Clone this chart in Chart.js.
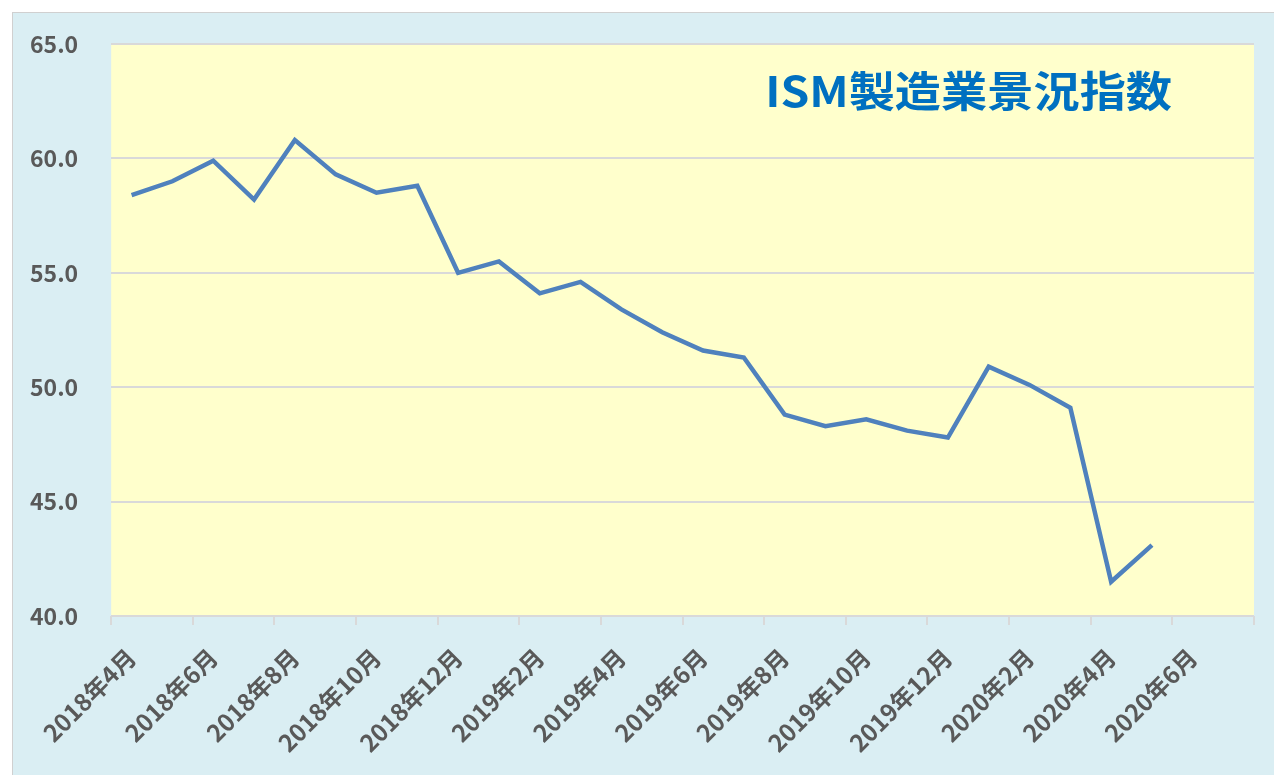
<!DOCTYPE html>
<html>
<head>
<meta charset="utf-8">
<script src="https://cdn.jsdelivr.net/npm/chart.js@4/dist/chart.umd.min.js"></script>
<style>
  html, body { margin: 0; padding: 0; background: #ffffff; overflow: hidden; }
  #wrap {
    position: absolute; left: 12px; top: 12px;
    width: 1300px; height: 800px;
    background: #DAEEF3;
    border: 1px solid #D0D0D0;
  }
  #box { position: absolute; left: 0; top: 0; width: 1261px; height: 762px; }
</style>
</head>
<body>
<div id="wrap"><div id="box"><canvas id="ism"></canvas></div></div>
<script>
// months on the category axis (last two have no data yet)
const months = [
  "2018年4月", "2018年5月", "2018年6月", "2018年7月", "2018年8月", "2018年9月",
  "2018年10月", "2018年11月", "2018年12月", "2019年1月", "2019年2月", "2019年3月",
  "2019年4月", "2019年5月", "2019年6月", "2019年7月", "2019年8月", "2019年9月",
  "2019年10月", "2019年11月", "2019年12月", "2020年1月", "2020年2月", "2020年3月",
  "2020年4月", "2020年5月", "2020年6月", "2020年7月",
];
const ismValues = [
  58.4, 59.0, 59.9, 58.2, 60.8, 59.3,
  58.5, 58.8, 55.0, 55.5, 54.1, 54.6,
  53.4, 52.4, 51.6, 51.3, 48.8, 48.3,
  48.6, 48.1, 47.8, 50.9, 50.1, 49.1,
  41.5, 43.1, null, null,
];
const yTicks = [40, 45, 50, 55, 60, 65];
const chartTitle = "ISM製造業景況指数";

const TEXT_COLOR = "#595959";
const GRID_COLOR = "#D9D9D9";
const FONT = "'Noto Sans CJK JP', 'Noto Sans', sans-serif";
const Y_PAD = 33;

// pale yellow plot area + title drawn inside it
const plotDecor = {
  id: "plotDecor",
  beforeDraw(chart) {
    const { ctx, chartArea } = chart;
    ctx.save();
    ctx.fillStyle = "#FFFFCC";
    ctx.fillRect(chartArea.left, chartArea.top, chartArea.right - chartArea.left, chartArea.bottom - chartArea.top);
    ctx.restore();
  },
  afterDraw(chart) {
    const { ctx, chartArea } = chart;
    ctx.save();
    ctx.font = "bold 42px " + FONT;
    ctx.fillStyle = "#0070C0";
    ctx.textBaseline = "middle";
    ctx.textAlign = "left";
    ctx.translate(chartArea.left + 654, chartArea.top + 47);
    ctx.scale(1.1, 1);
    ctx.fillText(chartTitle, 0, 0);
    ctx.restore();
  },
};

const ctx = document.getElementById("ism");
new Chart(ctx, {
  type: "line",
  data: {
    labels: months,
    datasets: [
      {
        label: chartTitle,
        data: ismValues,
        borderColor: "#4F81BD",
        borderWidth: 4.5,
        pointRadius: 0,
        fill: false,
        tension: 0,
        spanGaps: false,
      },
    ],
  },
  options: {
    responsive: true,
    maintainAspectRatio: false,
    animation: false,
    layout: { padding: { top: 31, right: 20, left: 17, bottom: 0 } },
    scales: {
      x: {
        type: "category",
        offset: true,
        border: { display: false },
        afterFit: (scale) => {
          scale.paddingLeft = 0;
          scale.paddingRight = 0;
          scale.height = 159;
        },
        grid: {
          offset: true,
          drawOnChartArea: false,
          drawTicks: true,
          tickLength: 9,
          lineWidth: 2,
          color: (c) => (c.index === undefined || c.index % 2 === 0) ? GRID_COLOR : "rgba(0,0,0,0)",
        },
        ticks: {
          autoSkip: false,
          maxRotation: 45,
          minRotation: 45,
          padding: 18,
          color: TEXT_COLOR,
          font: { family: FONT, size: 24, weight: "bold" },
          callback: function (value, index) {
            return index % 2 === 0 ? this.getLabelForValue(value) : "";
          },
        },
      },
      y: {
        min: yTicks[0],
        max: yTicks[yTicks.length - 1],
        border: { display: false },
        grid: { color: GRID_COLOR, lineWidth: 2, drawTicks: false },
        afterBuildTicks: (scale) => {
          scale.ticks = yTicks.map((v) => ({ value: v }));
        },
        afterFit: (scale) => {
          scale.paddingTop = 0;
          scale.paddingBottom = 0;
          scale.width -= Y_PAD; // padding was counted twice in the width
        },
        ticks: {
          padding: Y_PAD,
          color: TEXT_COLOR,
          font: { family: FONT, size: 23, weight: "bold" },
          callback: (v) => Number(v).toFixed(1),
        },
      },
    },
    plugins: {
      legend: { display: false },
      tooltip: { enabled: false },
    },
  },
  plugins: [plotDecor],
});
</script>
</body>
</html>
